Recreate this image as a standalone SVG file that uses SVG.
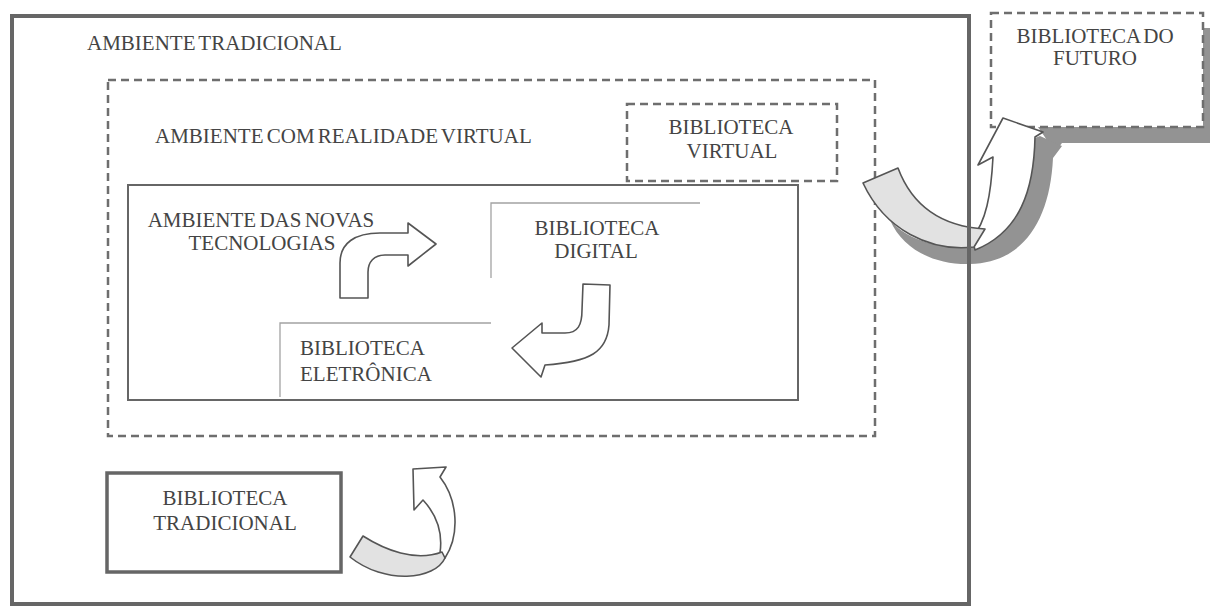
<svg xmlns="http://www.w3.org/2000/svg" width="1210" height="606" viewBox="0 0 1210 606">
<style>
text{font-family:"Liberation Serif","Times New Roman",serif;font-size:21px;fill:#444;word-spacing:-2px}
.c{text-anchor:middle}
.dash{fill:none;stroke:#6e6e6e;stroke-width:2.5;stroke-dasharray:8 5}
.solid{fill:none;stroke:#666;stroke-width:2}
.thin{fill:none;stroke:#a3a3a3;stroke-width:1.3}
.arr{fill:#fff;stroke:#555;stroke-width:1.6;stroke-linejoin:round}
.arrl{fill:#e2e2e2;stroke:#555;stroke-width:1.6;stroke-linejoin:round}
.shadow{fill:#939393}
</style>
<rect width="1210" height="606" fill="#fff"/>

<g id="ambiente-realidade-virtual">
<rect class="dash" x="108" y="80" width="767" height="356"/>
<text x="155" y="143">AMBIENTE COM REALIDADE VIRTUAL</text>
</g>

<g id="biblioteca-virtual">
<rect class="dash" x="627" y="104" width="210" height="77" fill="#fff"/>
<text class="c" x="731" y="134">BIBLIOTECA</text>
<text class="c" x="732" y="158">VIRTUAL</text>
</g>

<g id="ambiente-novas-tecnologias">
<rect class="solid" x="128" y="185" width="670" height="215"/>
<text class="c" x="261" y="227">AMBIENTE DAS NOVAS</text>
<text class="c" x="262" y="250">TECNOLOGIAS</text>
</g>

<g id="biblioteca-digital">
<path class="thin" d="M491,278 V203 H700"/>
<text class="c" x="597" y="235">BIBLIOTECA</text>
<text class="c" x="596" y="258">DIGITAL</text>
</g>

<g id="biblioteca-eletronica">
<path class="thin" d="M280,397 V323 H491"/>
<text x="300" y="355">BIBLIOTECA</text>
<text x="300" y="381">ELETRÔNICA</text>
</g>

<g id="biblioteca-tradicional">
<rect x="107" y="473" width="234" height="99" fill="none" stroke="#666" stroke-width="3.5"/>
<text class="c" x="225" y="505">BIBLIOTECA</text>
<text class="c" x="225" y="530">TRADICIONAL</text>
</g>

<g id="biblioteca-futuro">
<path class="shadow" d="M1203,28 H1210 V143 H1062 L1055,152 L1038,127 H1203 Z"/>
<rect class="dash" x="991" y="13" width="212" height="114" fill="#fff"/>
<text class="c" x="1095" y="43">BIBLIOTECA DO</text>
<text class="c" x="1095" y="65">FUTURO</text>
</g>

<g id="connectors">
<path class="arr" d="M340,298 L340,263 C340,243 355,233 380,233 L408,233 L408,223 L436,244 L408,266 L408,255 L385,255 C374,255 368,262 368,272 L368,298 Z"/>
<path class="arr" d="M583,284 L610,285 L609,325 C607,352 590,362 545,365 L541,377 L512,348 L542,323 L542,333 L565,333 C578,333 582,325 582,310 Z"/>
<path class="arr" d="M423,500 C436,514 443,532 440,553 L445,558 C460,535 458,500 440,477 L446,467 L413,469 L414,510 Z"/>
<path class="arrl" d="M350,557 L363,536 C385,550 415,562 442,552 L445,558 C435,580 385,585 350,557 Z"/>
<path class="shadow" d="M890,220 C903,250 935,265 970,264 C1022,263 1050,222 1053,158 L1062,146 L1040,136 L1030,140 C1030,190 1015,235 975,245 C935,250 905,238 890,220 Z"/>
<path class="arr" d="M993,157 L978,165 L1003,118 L1043,132 L1035,137 C1034,190 1020,232 975,250 L972,238 C986,222 991,195 993,157 Z"/>
<path class="arrl" d="M863,183 L898,168 C910,200 935,226 985,229 L974,247 C930,252 885,230 863,183 Z"/>
</g>

<g id="ambiente-tradicional">
<rect x="12" y="16" width="957" height="588" fill="none" stroke="#666" stroke-width="4"/>
<text x="87" y="50">AMBIENTE TRADICIONAL</text>
</g>
</svg>
